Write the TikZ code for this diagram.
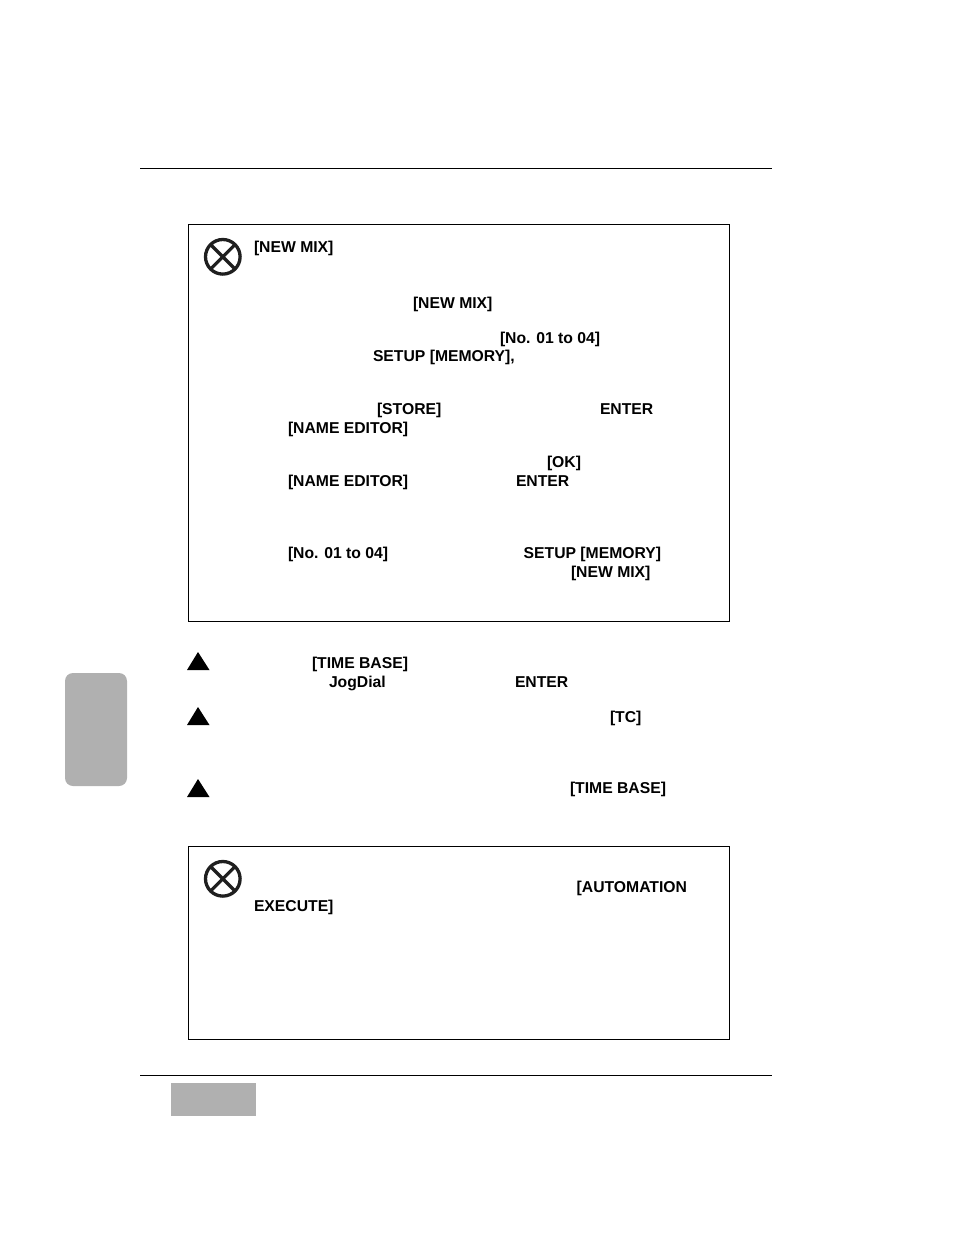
\documentclass[tikz,border=0pt]{standalone}
\usepackage{fontspec}
\setmainfont{Liberation Sans}
\begin{document}
\begin{tikzpicture}[x=1pt,y=-1pt,
  lbl/.style={anchor=base west,inner sep=0pt,outer sep=0pt,font=\fontsize{15.72}{18}\selectfont\bfseries},
  rulehead/.style={draw=black,line width=1.1pt},
  framebox/.style={draw=black,line width=1pt,fill=white},
  graybox/.style={fill=black!31,draw=none},
  tri/.style={fill=black,draw=none},
  xcircle/.style={draw=black!88,line width=3.3pt}]
\useasboundingbox (0,0) rectangle (954,1235);
\fill[white] (0,0) rectangle (954,1235);
% rules
\coordinate (rtl) at (140,168.5); \coordinate (rtr) at (772,168.5);
\coordinate (rbl) at (140,1075.5); \coordinate (rbr) at (772,1075.5);
\draw[rulehead] (rtl) -- (rtr);
\draw[rulehead] (rbl) -- (rbr);
% frames
\draw[framebox] (188.5,224.5) rectangle (729.5,621.5);
\draw[framebox] (188.5,846.5) rectangle (729.5,1039.5);
% gray tabs
\fill[graybox,rounded corners=8pt] (65,673) rectangle (127,786);
\fill[graybox] (171,1083) rectangle (256,1116);
% note icons
\foreach \cx/\cy in {222.8/256.8,222.8/878.8}{
  \draw[xcircle] (\cx,\cy) circle (17.3);
  \draw[xcircle] (\cx-12,\cy-12) -- (\cx+12,\cy+12);
  \draw[xcircle] (\cx-12,\cy+12) -- (\cx+12,\cy-12);
}
% triangles
\foreach \ty in {652,707,779}{
  \fill[tri] (198,\ty) -- (209.5,\ty+18) -- (187,\ty+18) -- cycle;
}
% texts
\node[lbl] (a1) at (254,252) {[NEW MIX]};
\node[lbl] (a2) at (413,308) {[NEW MIX]};
\node[lbl] (a3) at (500,343) {[No. 01 to 04]};
\node[lbl] (a4) at (373,361) {SETUP [MEMORY],};
\node[lbl] (a5) at (377,414) {[STORE]};
\node[lbl] (a6) at (600,414) {ENTER};
\node[lbl] (a7) at (288,433) {[NAME EDITOR]};
\node[lbl] (a8) at (547,467) {[OK]};
\node[lbl] (a9) at (288,486) {[NAME EDITOR]};
\node[lbl] (a10) at (516,486) {ENTER};
\node[lbl] (a11) at (288,558) {[No. 01 to 04]};
\node[lbl] (a12) at (523.7,558) {SETUP [MEMORY]};
\node[lbl] (a13) at (571,577) {[NEW MIX]};
\node[lbl] (b1) at (312,668) {[TIME BASE]};
\node[lbl] (b2) at (329,687) {JogDial};
\node[lbl] (b3) at (515,687) {ENTER};
\node[lbl] (b4) at (610,722) {[TC]};
\node[lbl] (b5) at (570,793) {[TIME BASE]};
\node[lbl] (c1) at (576.7,892) {[AUTOMATION};
\node[lbl] (c2) at (254,911) {EXECUTE]};
\end{tikzpicture}
\end{document}
